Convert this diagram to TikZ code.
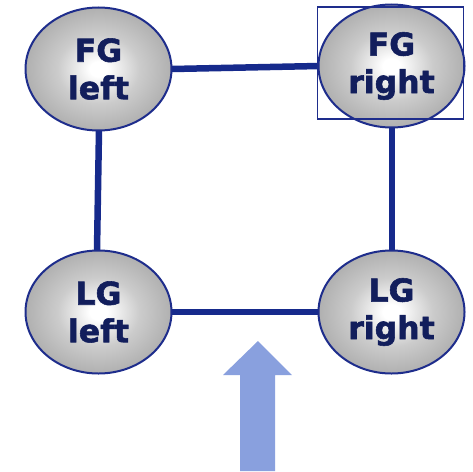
\documentclass[tikz,border=0pt]{standalone}
\usepackage{fontspec}
\setmainfont{DejaVu Sans}
\newfontfamily\wheelfont[FakeBold=1.8]{DejaVu Sans Bold}
\usetikzlibrary{shapes.geometric}
\definecolor{linkblue}{RGB}{22,42,140}
\definecolor{rimblue}{RGB}{30,45,140}
\definecolor{labelnavy}{RGB}{18,30,92}
\definecolor{arrowblue}{RGB}{137,160,222}
\definecolor{shadegray}{RGB}{176,176,176}
\pgfdeclareradialshading{hub}{\pgfpoint{0bp}{0bp}}{%
  color(0bp)=(white); color(3bp)=(white); color(14bp)=(shadegray!65!white);
  color(25bp)=(shadegray); color(50bp)=(shadegray)}
\tikzset{
  gear/.style={ellipse, draw=rimblue, line width=2pt, inner sep=0pt,
    minimum width=146pt, minimum height=123pt,
    shading=hub, text=labelnavy, align=center,
    font=\wheelfont\fontsize{31.5}{37.5}\selectfont},
  link/.style={draw=linkblue, line width=6.5pt},
  frame/.style={draw=rimblue, line width=1.5pt, inner sep=0pt,
    minimum width=146pt, minimum height=112pt}
}
\begin{document}
\begin{tikzpicture}[x=1pt,y=-1pt]
\useasboundingbox (0,0) rectangle (473,471);
% wheel centres
\coordinate (c1) at (98.5,69);
\coordinate (c2) at (391.5,66);
\coordinate (c3) at (98.5,312);
\coordinate (c4) at (391.5,312);
% connectors sit behind the wheels
\draw[link] (172,69) -- (319,66);
\draw[link] (99,130) -- (97,250);
\draw[link] (392,127) -- (392,250);
\draw[link] (172,312) -- (318,312);
% wheels
\node[gear] (fgl) at (c1) {FG\\left};
\node[gear] (fgr) at (c2) {FG\\right};
\node[gear] (lgl) at (c3) {LG\\left};
\node[gear] (lgr) at (c4) {LG\\right};
% highlight box around the front right wheel
\node[frame] (sel) at (390.5,63) {};
% motion arrow
\fill[arrowblue] (240,471) -- (240,375) -- (223,375) -- (258,341)
  -- (292,375) -- (275,375) -- (275,471) -- cycle;
\end{tikzpicture}
\end{document}
